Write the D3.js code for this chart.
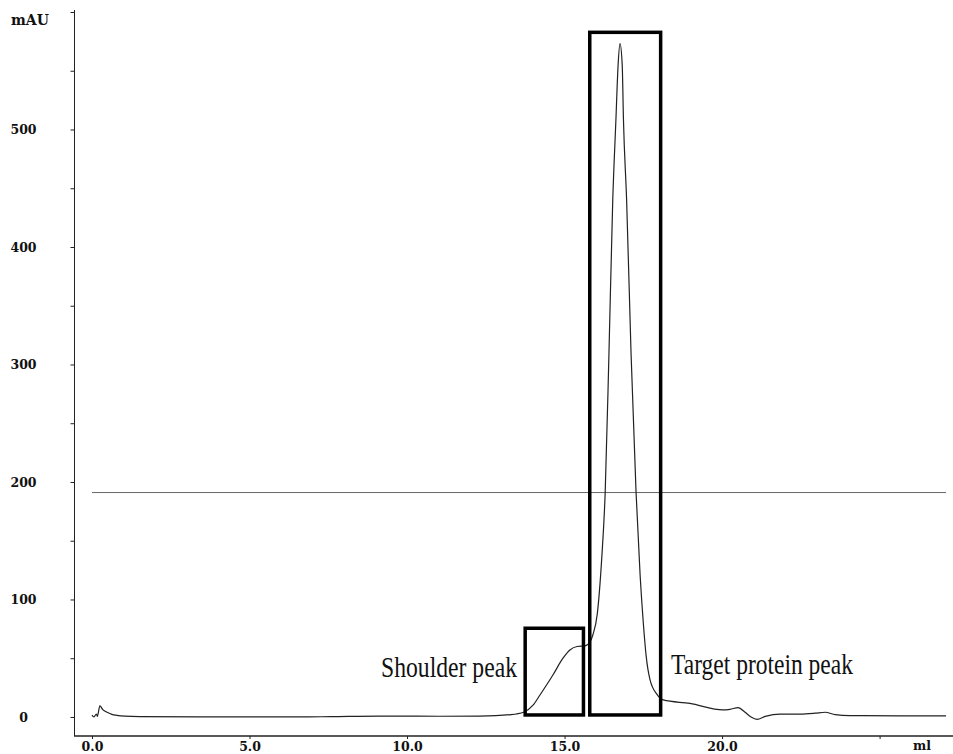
<!DOCTYPE html>
<html>
<head>
<meta charset="utf-8">
<script src="https://cdn.jsdelivr.net/npm/d3@7"></script>
<style>
	body { margin: 0; background: #fff; }
	svg { display: block; }
	.axis path, .axis line { stroke: #222; }
	.axis text { font-family: "DejaVu Serif", serif; font-weight: bold; font-size: 12.5px; fill: #111; }
	.note { font-family: "Liberation Serif", "Times New Roman", serif; font-size: 29px; fill: #111; }
</style>
</head>
<body>
<svg class="chart"></svg>
<script>
// elution volume (ml) and UV absorbance (mAU)
var volumeMl = [0.00, 0.06, 0.14, 0.17, 0.25, 0.35, 0.48, 0.63, 0.79, 1.05, 1.52, 3.4, 6.6, 7.6, 9.1, 11.0, 12.3, 13.3, 13.7, 14.0,
	14.22, 14.63, 14.95, 15.17, 15.4, 15.65, 15.81, 15.9, 16.04, 16.18, 16.29, 16.41, 16.53, 16.63, 16.70, 16.76,
	16.83, 16.87, 16.97, 17.11, 17.27, 17.40, 17.50, 17.59, 17.71, 17.94, 18.13, 18.98, 20.03, 20.25, 20.51, 20.73,
	20.92, 21.11, 21.37, 21.84, 22.48, 22.95, 23.27, 23.59, 24.06, 25.65, 27.11];
var absorbanceMau = [1.5, 0, 2.5, 0.5, 9.4, 6, 4, 2.2, 1.4, 0.7, 0.3, 0, 0, 0.3, 0.8, 0.6, 0.8, 2, 4, 10,
	18.7, 35.7, 50, 57, 60, 60.5, 64, 70, 88, 135, 191, 310, 440, 508, 555, 573,
	555, 508, 440, 310, 191, 120, 80, 52, 32, 19, 14.5, 11.5, 6, 6.5, 8, 4,
	0, -2, 0.5, 2.5, 2.5, 3.2, 4, 2, 1.2, 1, 1];

var yTickValues = [0, 50, 100, 150, 200, 250, 300, 350, 400, 450, 500, 550, 600];
var yLabelValues = [0, 100, 200, 300, 400, 500];
var xTickValues = [0, 5, 10, 15, 20, 25];
var xLabelValues = [0, 5, 10, 15, 20];

var thresholdMau = 191;
var thresholdRange = [0, 27.11];

// [ml start, ml end, mAU bottom, mAU top]
var shoulderBox = [13.75, 15.60, 1.7, 75.5];
var targetBox = [15.80, 18.05, 1.7, 582.7];
var noteLabels = ["Shoulder peak", "Target protein peak"];

var width = 953, height = 754;
var data = volumeMl.map(function(v, i){ return {ml: v, mau: absorbanceMau[i]}; });

var x = d3.scaleLinear().domain([-0.571, 27.33]).range([74, 953]);
var y = d3.scaleLinear().domain([-16.2, 600]).range([736, 12]);

var chart = d3.select('.chart')
	.attr('width', width)
	.attr('height', height);

var yAxis = d3.axisLeft(y)
	.tickValues(yTickValues)
	.tickSize(4)
	.tickFormat(function(d){ return yLabelValues.indexOf(d) >= 0 ? d : ''; });

var xAxis = d3.axisBottom(x)
	.tickValues(xTickValues)
	.tickSize(3)
	.tickFormat(function(d){ return xLabelValues.indexOf(d) >= 0 ? d3.format('.1f')(d) : ''; });

var gy = chart.append('g')
	.attr('class', 'y axis')
	.attr('transform', 'translate(74.5,0)')
	.call(yAxis);
gy.select('.domain').attr('d', 'M0,10V736');
gy.selectAll('.tick text')
	.attr('x', -51)
	.attr('dy', '0.36em')
	.attr('text-anchor', 'middle');

var gx = chart.append('g')
	.attr('class', 'x axis')
	.attr('transform', 'translate(0,736)')
	.call(xAxis);
gx.select('.domain').attr('d', 'M74,0H953').attr('stroke-width', 1.4);
gx.selectAll('.tick text')
	.attr('y', 15)
	.attr('dy', null);

chart.append('text')
	.attr('class', 'axis-unit')
	.attr('x', 11)
	.attr('y', 25)
	.style('font-family', '"DejaVu Serif", serif')
	.style('font-weight', 'bold')
	.style('font-size', '14px')
	.style('fill', '#111')
	.text('mAU');

chart.append('text')
	.attr('x', 922)
	.attr('y', 750)
	.attr('text-anchor', 'middle')
	.style('font-family', '"DejaVu Serif", serif')
	.style('font-weight', 'bold')
	.style('font-size', '12.5px')
	.style('fill', '#111')
	.text('ml');

// horizontal reference line
chart.append('line')
	.attr('x1', x(thresholdRange[0]))
	.attr('x2', x(thresholdRange[1]))
	.attr('y1', y(thresholdMau))
	.attr('y2', y(thresholdMau))
	.attr('stroke', '#666')
	.attr('stroke-width', 1);

var line = d3.line()
	.x(function(d){ return x(d.ml); })
	.y(function(d){ return y(d.mau); })
	.curve(d3.curveMonotoneX);

chart.append('path')
	.datum(data)
	.attr('fill', 'none')
	.attr('stroke', '#222')
	.attr('stroke-width', 1.2)
	.attr('stroke-linejoin', 'round')
	.attr('d', line);

[shoulderBox, targetBox].forEach(function(b){
	chart.append('rect')
		.attr('x', x(b[0]))
		.attr('y', y(b[3]))
		.attr('width', x(b[1]) - x(b[0]))
		.attr('height', y(b[2]) - y(b[3]))
		.attr('fill', 'none')
		.attr('stroke', '#000')
		.attr('stroke-width', 3.5);
});

chart.append('text')
	.attr('class', 'note')
	.attr('x', 381)
	.attr('y', 677)
	.attr('textLength', 136)
	.attr('lengthAdjust', 'spacingAndGlyphs')
	.text(noteLabels[0]);

chart.append('text')
	.attr('class', 'note')
	.attr('x', 671)
	.attr('y', 674)
	.attr('textLength', 182)
	.attr('lengthAdjust', 'spacingAndGlyphs')
	.text(noteLabels[1]);
</script>
</body>
</html>
